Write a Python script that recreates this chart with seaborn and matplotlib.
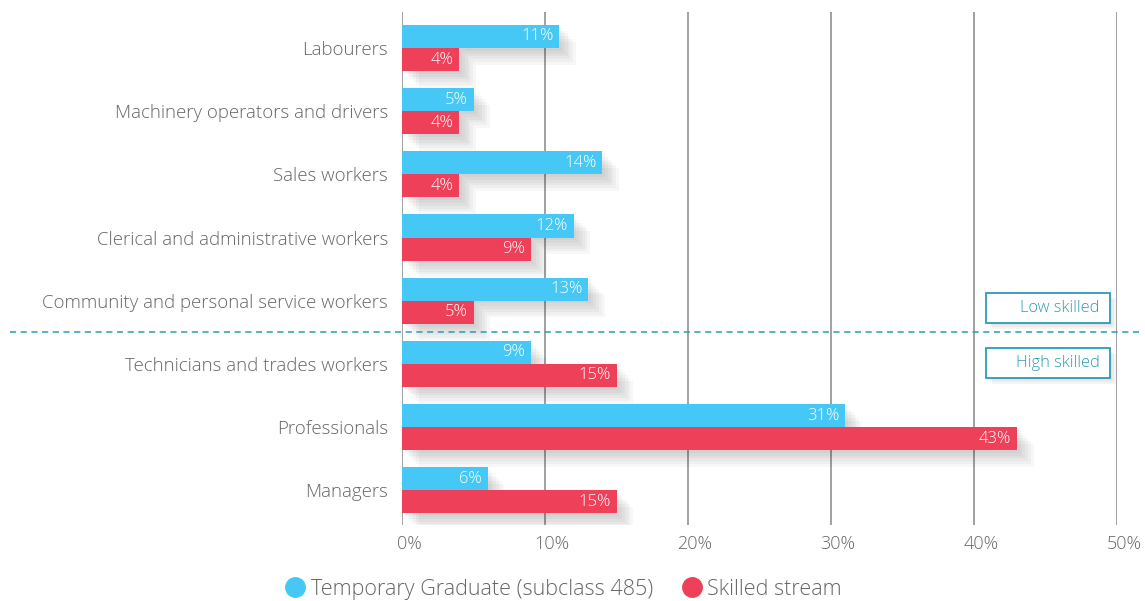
import matplotlib
import matplotlib.pyplot as plt
import matplotlib.patheffects as pe
import matplotlib.transforms as mtransforms
import numpy as np
import pandas as pd
import seaborn as sns
from matplotlib.lines import Line2D
from matplotlib.patches import Rectangle

# 数据
occupations = ['Labourers', 'Machinery operators and drivers', 'Sales workers',
               'Clerical and administrative workers', 'Community and personal service workers',
               'Technicians and trades workers', 'Professionals', 'Managers']
temp_grad = [11, 5, 14, 12, 13, 9, 31, 6]
skilled = [4, 4, 4, 9, 5, 15, 43, 15]
series_names = ['Temporary Graduate (subclass 485)', 'Skilled stream']
x_ticks = [0, 10, 20, 30, 40, 50]

BLUE = '#45c8f5'
RED = '#ef405a'
TEAL = '#2b9cb3'
GREY = '#666666'

df = pd.DataFrame({
    'occupation': occupations * 2,
    'value': temp_grad + skilled,
    'series': [series_names[0]] * len(occupations) + [series_names[1]] * len(occupations),
})

sns.set_theme(style='white')
plt.rcParams['font.family'] = ['Open Sans', 'DejaVu Sans']
plt.rcParams['font.weight'] = 'light'

fig = plt.figure(figsize=(11.45, 6.01), dpi=100)
ax = fig.add_axes([402 / 1145, 1 - 525 / 601, 715 / 1145, 513 / 601])

sns.barplot(data=df, y='occupation', x='value', hue='series', order=occupations,
            hue_order=series_names, palette=[BLUE, RED], width=0.73, gap=0,
            saturation=1, orient='h', legend=False, ax=ax, zorder=3)

# 阴影效果
shadow = [pe.SimplePatchShadow(offset=(k, -k), shadow_rgbFace='black', alpha=0.03)
          for k in (12, 10, 8, 6, 4, 2)] + [pe.Normal()]
for bar in ax.patches:
    bar.set_path_effects(shadow)
    bar.set_edgecolor('none')

# 数值标签
for bar in ax.patches:
    w = bar.get_width()
    yc = bar.get_y() + bar.get_height() / 2
    ax.annotate(f'{w:.0f}%', (w, yc), xytext=(-4, 0), textcoords='offset points',
                ha='right', va='center', color='white', fontsize=12, zorder=5)

ax.set_xlim(0, 50)
ax.set_ylim(7.55, -0.57)
ax.set_xticks(x_ticks)
ax.set_xticklabels([f'{t}%' for t in x_ticks], color=GREY, fontsize=13)
ax.tick_params(axis='y', labelsize=13.4, labelcolor=GREY, length=0, pad=10)
ax.tick_params(axis='x', length=0, pad=7)
shift = mtransforms.ScaledTranslation(7 / 100, 0, fig.dpi_scale_trans)
for lab in ax.get_xticklabels():
    lab.set_transform(lab.get_transform() + shift)
ax.set_xlabel('')
ax.set_ylabel('')
for s in ax.spines.values():
    s.set_visible(False)
for t in x_ticks:
    ax.axvline(t, color='#888888', lw=1.1, zorder=1)

# 高低技能分隔线
ax.axhline(4.5, xmin=-0.548, xmax=1.032, color=TEAL, lw=1.1, ls=(0, (4, 3)),
           clip_on=False, zorder=4)

for label, ytop in [('Low skilled', 293), ('High skilled', 348)]:
    x0, y0, w, h = 986 / 1145, 1 - (ytop + 30) / 601, 124 / 1145, 30 / 601
    for k in (6, 4, 2):
        fig.patches.append(Rectangle((x0 + k / 1145, y0 - k / 601), w, h,
                                     transform=fig.transFigure, facecolor='black',
                                     alpha=0.04, edgecolor='none', zorder=5))
    fig.patches.append(Rectangle((x0, y0), w, h, transform=fig.transFigure,
                                 facecolor='white', edgecolor=TEAL, lw=1.3, zorder=6))
    fig.text(x0 + w - 10 / 1145, y0 + h / 2, label, color=TEAL, fontsize=11.8,
             ha='right', va='center', zorder=7)

handles = [Line2D([], [], marker='o', ls='', markersize=14, color=c) for c in (BLUE, RED)]
fig.legend(handles, series_names, loc='lower center', bbox_to_anchor=(0.487, -0.03),
           ncol=2, frameon=False, fontsize=15.5, handletextpad=-0.3, columnspacing=0.8,
           labelcolor=GREY)

fig.savefig('out.png', dpi=100)
